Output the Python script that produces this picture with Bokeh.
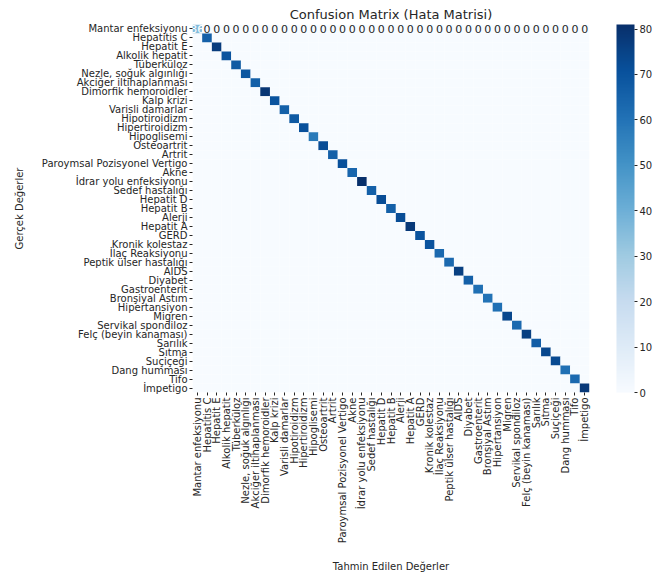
import math
from bokeh.plotting import figure
from bokeh.models import (ColumnDataSource, LinearColorMapper, ColorBar,
                          FixedTicker, FactorRange)
from bokeh.palettes import Blues256
from bokeh.core.properties import value
from bokeh.embed import file_html
from bokeh.resources import INLINE

labels = [
    "Mantar enfeksiyonu", "Hepatitis C", "Hepatit E", "Alkolik hepatit",
    "Tüberküloz", "Nezle, soğuk algınlığı", "Akciğer iltihaplanması",
    "Dimorfik hemoroidler", "Kalp krizi", "Varisli damarlar", "Hipotiroidizm",
    "Hipertiroidizm", "Hipoglisemi", "Osteoartrit", "Artrit",
    "Paroymsal Pozisyonel Vertigo", "Akne", "İdrar yolu enfeksiyonu",
    "Sedef hastalığı", "Hepatit D", "Hepatit B", "Alerji", "Hepatit A", "GERD",
    "Kronik kolestaz", "İlaç Reaksiyonu", "Peptik ülser hastalığı", "AIDS",
    "Diyabet", "Gastroenterit", "Bronşiyal Astım", "Hipertansiyon", "Migren",
    "Servikal spondiloz", "Felç (beyin kanaması)", "Sarılık", "Sıtma",
    "Suçiçeği", "Dang humması", "Tifo", "İmpetigo",
]

diagonal = [36, 66, 77, 70, 68, 69, 66, 79, 70, 66,
            68, 71, 58, 72, 66, 71, 64, 81, 66, 72,
            66, 72, 78, 70, 70, 63, 63, 76, 66, 61,
            60, 61, 74, 63, 76, 67, 74, 73, 61, 63,
            78]

cbar_ticks = [0, 10, 20, 30, 40, 50, 60, 70, 80]
vmax = max(diagonal)

xs, ys, vals = [], [], []
for i, actual in enumerate(labels):
    for j, pred in enumerate(labels):
        xs.append(pred)
        ys.append(actual)
        vals.append(diagonal[i] if i == j else 0)
src = ColumnDataSource(dict(x=xs, y=ys, v=vals))

ann_x = list(labels)
ann_y = [labels[0]] * len(labels)
ann_t = [str(diagonal[0])] + ["0"] * (len(labels) - 1)
ann_c = ["#ffffff"] + ["#262626"] * (len(labels) - 1)
ann = ColumnDataSource(dict(x=ann_x, y=ann_y, t=ann_t, c=ann_c))

mapper = LinearColorMapper(palette=list(Blues256)[::-1], low=0, high=vmax)

font = "DejaVu Sans"
p = figure(frame_width=397, frame_height=368,
           output_backend="svg", toolbar_location=None,
           x_range=FactorRange(*labels), y_range=FactorRange(*labels[::-1]),
           title="Confusion Matrix (Hata Matrisi)",
           x_axis_label="Tahmin Edilen Değerler",
           y_axis_label="Gerçek Değerler",
           min_border_left=192, min_border_right=56, min_border_top=24,
           min_border_bottom=183)

p.rect(x="x", y="y", width=1, height=1, source=src,
       fill_color={"field": "v", "transform": mapper}, line_color=None)
p.text(x="x", y="y", text="t", source=ann, text_color="c",
       text_align="center", text_baseline="middle",
       text_font=value(font), text_font_size="11px")

p.title.align = "center"
p.title.text_font = font
p.title.text_font_style = "normal"
p.title.text_font_size = "13px"
p.title.text_color = "#262626"
p.title.standoff = 6

p.outline_line_color = None
p.grid.grid_line_color = None
for ax in (p.xaxis, p.yaxis):
    ax.axis_line_color = None
    ax.major_tick_line_color = "#262626"
    ax.major_tick_out = 3
    ax.major_tick_in = 0
    ax.minor_tick_line_color = None
    ax.major_label_text_font = font
    ax.major_label_text_font_size = "10px"
    ax.major_label_text_color = "#262626"
    ax.axis_label_text_font = font
    ax.axis_label_text_font_size = "10px"
    ax.axis_label_text_font_style = "normal"
    ax.axis_label_text_color = "#262626"
    ax.major_label_standoff = 2
p.xaxis.major_label_orientation = math.pi / 2
p.xaxis.axis_label_standoff = 15
p.yaxis.axis_label_standoff = 14

cb = ColorBar(color_mapper=mapper, ticker=FixedTicker(ticks=cbar_ticks),
              width=18, margin=0, padding=0, location=(27, 0),
              bar_line_color=None,
              border_line_color=None, major_tick_in=0, major_tick_out=3,
              major_tick_line_color="#262626", minor_tick_line_color=None,
              major_label_text_font=font, major_label_text_font_size="10px",
              major_label_text_color="#262626", label_standoff=2,
              background_fill_color=None)
p.add_layout(cb, "right")

open("out.html", "w").write(file_html(p, INLINE))
